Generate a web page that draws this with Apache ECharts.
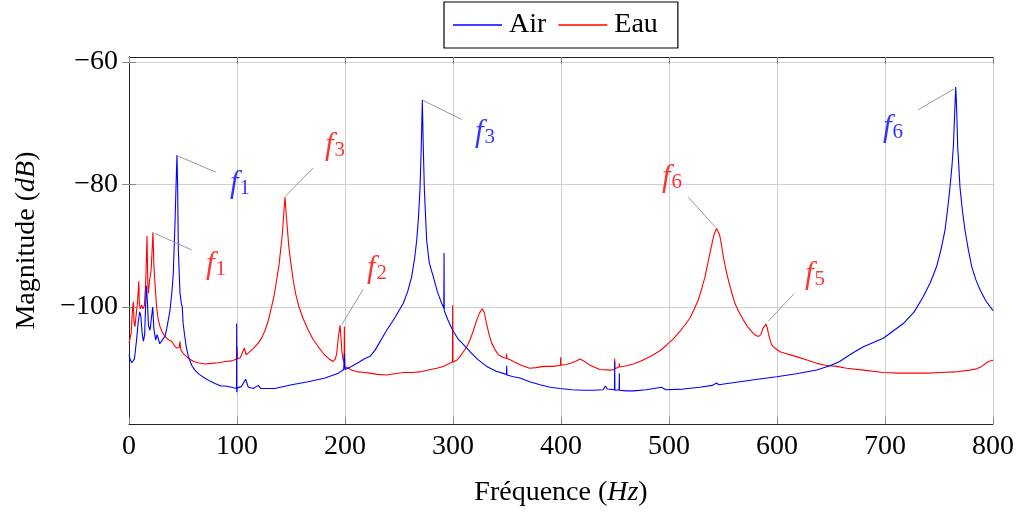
<!DOCTYPE html>
<html>
<head>
<meta charset="utf-8">
<script src="https://cdn.jsdelivr.net/npm/echarts@6/dist/echarts.min.js"></script>
<style>
html,body{margin:0;padding:0;background:#fff;}
#chart{width:1018px;height:512px;}
</style>
</head>
<body>
<div id="chart"></div>
<script>
// ---- Data ----
const xTicks = [0, 100, 200, 300, 400, 500, 600, 700, 800];
const yTicks = [-100, -80, -60];

const airFreq = [0,1.2,2.5,4,5,7,8.5,9.9,11,12,13.3,14.5,16,17,18,19.4,20.5,22,23,24.7,26,27,28.5,30,31.5,33.3,35,38,40,41,42.6,43.6,44.4,45,45.7,47.2,48.5,49.4,50,51.2,53,55,58,61,65,70,75,79.6,85,89,95,99.6,99.7,99.8,100.3,104,108,110.5,115,119.7,122,135,150.6,166,181.5,193.8,198.8,199.4,200,206,212,218.5,223,228,238.6,246,254,258,261.7,264.5,266.4,268,269.4,270.6,271.6,272.5,273.5,275.6,278,281.8,285.5,289.5,291.5,291.7,291.9,295,299.7,305,310,315.7,323,331.2,340,349.5,349.7,349.9,356,362,371,380.6,390,399,410,420.7,430,439,441,443,449.5,449.7,449.9,453.8,454,454.2,460,467,479,493,497,513,528.7,540,544,546,565.7,582,599.7,618,636.8,649,658,670,680,698.4,717,727,735.5,742,747.8,752,755.6,758,760.2,762,763.3,764.6,765.5,766.4,767.3,768.5,769.4,771.5,774,777,780.3,784,788,793,800];
const airMag = [-107.8,-108.6,-109.1,-109.0,-108.5,-105.4,-102.5,-100.8,-101.5,-104,-105.6,-104.5,-96.5,-99,-103,-103.8,-103.5,-100,-103.5,-105.4,-104.5,-104.8,-106,-105.8,-105.2,-104.8,-103.5,-100.5,-97,-94.5,-86.3,-80,-75.2,-80,-90.7,-97.7,-99.5,-100,-102.5,-104.2,-106.5,-108.1,-109.5,-110.3,-111.0,-111.6,-112.1,-112.5,-112.9,-112.9,-113.1,-113.3,-102.7,-113.9,-113.2,-113.0,-111.8,-113.1,-113.3,-112.8,-113.3,-113.3,-112.7,-112.2,-111.6,-110.8,-110.2,-107.6,-110.2,-109.7,-109.1,-108.4,-108.1,-107.0,-103.8,-101.8,-99.4,-97.5,-95.1,-92,-89.1,-85.5,-80.9,-74,-66.2,-74,-80.9,-89.1,-92.8,-95.1,-97.5,-99.4,-100.2,-91.2,-100.6,-102,-103.8,-105.3,-106.2,-107.3,-108.6,-109.7,-110.5,-111.0,-109.6,-111.1,-111.4,-111.6,-112.2,-112.7,-113.1,-113.3,-113.5,-113.6,-113.6,-113.5,-112.9,-113.4,-113.5,-108.9,-113.6,-113.5,-110.8,-113.6,-113.7,-113.7,-113.5,-113.1,-113.5,-113.4,-113.1,-112.8,-112.4,-112.7,-112.2,-111.8,-111.4,-110.9,-110.3,-109.6,-108.9,-107.5,-106.5,-105.1,-102.7,-100.8,-98.3,-96,-93.4,-90.5,-87.4,-84,-80.4,-77,-73.8,-68,-64.1,-68,-73.8,-77.5,-80.4,-84,-87.4,-90.5,-93.4,-95.5,-97.2,-98.9,-100.6];

const eauFreq = [0,1,2,3,4,4.6,5.5,6.8,8,9,9.6,10.5,11.7,13,14.2,15.5,16.7,17.4,17.9,19.1,20.5,22.2,23,24,25.6,27,28.7,31,33.3,36,39.5,42,44.1,46.5,47.2,48,50.3,55,60,64,70,76.5,83,89,95,99.5,100,100.5,103,106.8,108.5,110.5,115,119.7,123,126,129,132,134.5,136.7,139,140.7,142,142.9,144.4,146,147,148,150,152,154.5,157.4,161.5,166,170.5,175.3,180,184.6,189,191,192.3,193.8,195.4,196.3,197,198,199.2,199.4,199.6,203,206,212,218.5,223,230,238.6,246,254,262,269.4,277,285,291,297,299.5,299.7,299.9,303.4,306.5,309.6,313,315.7,319,322,324.5,327,329,331,333.5,335.8,339,342,346,349.5,349.7,349.9,353,356,363,371,377,383.6,392.9,399.5,399.7,399.9,405,410,414,417.6,421,426.9,436,445.4,449.5,449.7,449.9,451.6,453.8,454,454.2,460.8,467,473,479,485.5,492,497.8,504,510,515,519.4,523,527,530,533.3,535.8,537.9,540,541.7,544,545.8,547.2,548.7,550.3,552.5,555,558,561,565,568.8,573,578,581,583,585,587,589.8,591,592,593.5,595,598,602.8,610,618,627,636.8,645,655,664.5,680,698.4,712,726,740,751,765,778.7,785,789.5,795.6,800];
const eauMag = [-105.9,-105.9,-104.3,-101,-99.1,-102.5,-103.2,-101,-99,-95.8,-99.5,-100.3,-99.7,-100.3,-99.8,-96,-88.4,-96,-97.8,-95.6,-94,-87.8,-93,-96.1,-100,-102,-103.2,-104.2,-104.8,-105.3,-105.6,-106.3,-106.7,-106.6,-105.6,-107,-107.6,-108.4,-108.9,-109.1,-109.3,-109.2,-109.1,-108.9,-108.8,-108.5,-106.5,-108.5,-108.3,-106.7,-107.8,-107.5,-106.8,-105.9,-105,-103.8,-102.2,-100,-98,-95.6,-93,-90.2,-88,-85.8,-82.1,-85.8,-88,-90.2,-93,-95.6,-98,-100,-102,-103.8,-105.3,-106.5,-107.6,-108.4,-108.9,-108.5,-107.6,-105,-103.0,-105,-107,-108.5,-109,-103.2,-109.7,-110,-110.3,-110.6,-110.7,-110.8,-111,-111.1,-110.9,-110.7,-110.7,-110.6,-110.3,-110,-109.7,-109.2,-109.0,-99.7,-109.0,-108.7,-108.1,-107.3,-106.4,-105.4,-103.8,-102.1,-101,-100.3,-100.9,-102.7,-104.5,-105.9,-107,-107.8,-108.2,-108.4,-107.6,-108.4,-108.6,-108.9,-109.5,-110,-109.9,-109.7,-109.7,-109.5,-108.2,-109.5,-109.4,-109.1,-108.8,-108.5,-108.8,-109.5,-110.2,-110.3,-110.2,-108.4,-110.1,-110,-109.8,-109.2,-109.8,-109.6,-109.3,-108.9,-108.4,-107.8,-107.1,-106.2,-105.2,-104,-102.9,-101.8,-100.5,-98.9,-97.2,-95.1,-93,-91.2,-89.5,-88.2,-87.2,-87.8,-88.5,-90,-91.8,-93.8,-95.6,-97.6,-99.4,-100.9,-102.1,-103.3,-104.3,-104.7,-104.8,-104.5,-103.5,-102.8,-103.4,-104.3,-105.3,-106.2,-106.7,-107.3,-107.7,-108.1,-108.6,-109.2,-109.5,-109.7,-110,-110.3,-110.7,-110.8,-110.8,-110.8,-110.7,-110.6,-110.3,-110.1,-109.7,-108.9,-108.7];

// Peak annotations
const annSeries   = ['Air', 'Eau', 'Eau', 'Eau', 'Air', 'Eau', 'Eau', 'Air'];
const annIndex    = ['1', '1', '3', '2', '3', '6', '5', '6'];
const annPeakFreq = [44.6, 24.1, 144.4, 196.9, 272.5, 542.6, 592, 763.9];
const annPeakMag  = [-75.3, -88.0, -82.0, -102.9, -66.3, -86.9, -102.3, -64.4];
const annEndFreq  = [80.3, 58.1, 170.6, 216.9, 308, 517.9, 616, 730.8];
const annEndMag   = [-78.0, -90.7, -77.3, -97.1, -69.4, -82.1, -97.8, -67.8];
const annTextFreq = [102.8, 80.6, 190.7, 229.6, 329.6, 502.8, 635.2, 707.4];
const annTextMag  = [-80.6, -93.9, -74.4, -94.5, -72.3, -79.6, -95.5, -71.5];

// ---- Build chart ----
const FONT = '"Liberation Serif", "DejaVu Serif", serif';
const FS = 28;
const colors = { Air: '#0000ff', Eau: '#ff0000' };
const zip = (a, b) => a.map((v, i) => [v, b[i]]);
const minus = v => (v < 0 ? '\u2212' + Math.abs(v) : String(v));

const pinLines = annPeakFreq.map((f, i) => [
  { coord: [f, annPeakMag[i]] },
  { coord: [annEndFreq[i], annEndMag[i]] }
]);
const labelData = annTextFreq.map((f, i) => ({
  value: [f, annTextMag[i]],
  label: {
    show: true,
    position: 'inside',
    formatter: '{f|f}{s|' + annIndex[i] + '}',
    rich: {
      f: { fontFamily: FONT, fontStyle: 'italic', fontSize: 31, color: colors[annSeries[i]], lineHeight: 20, verticalAlign: 'top' },
      s: { fontFamily: FONT, fontSize: 21, color: colors[annSeries[i]], verticalAlign: 'middle', lineHeight: 40, padding: [0, 0, 0, 1] }
    }
  }
}));

const chart = echarts.init(document.getElementById('chart'), null, { renderer: 'canvas' });
const yMin = -119.1, yMax = -59.2;
chart.setOption({
  animation: false,
  backgroundColor: '#ffffff',
  textStyle: { fontFamily: FONT },
  grid: { left: 129, right: 25, top: 57, bottom: 88, containLabel: false, outerBoundsMode: 'none' },
  legend: {
    data: [{ name: 'Air', icon: 'rect' }, { name: 'Eau', icon: 'rect' }],
    left: 444, top: 2,
    padding: [9, 20, 9, 9],
    itemGap: 12,
    itemWidth: 49, itemHeight: 1.3,
    borderColor: '#000', borderWidth: 1.2,
    textStyle: { fontFamily: FONT, fontSize: FS, color: '#000', padding: [0, 0, 0, 2] }
  },
  xAxis: [{
    type: 'value', min: 0, max: 800, interval: 100,
    name: 'Fréquence ({i|Hz})', nameLocation: 'middle', nameGap: 55,
    nameTextStyle: { fontFamily: FONT, fontSize: FS, color: '#000', rich: { i: { fontFamily: FONT, fontStyle: 'italic', fontSize: FS, color: '#000' } } },
    axisLine: { show: true, lineStyle: { color: '#222', width: 1 } },
    axisTick: { show: true, inside: true, length: 7, lineStyle: { color: '#888' } },
    axisLabel: { fontFamily: FONT, fontSize: FS, color: '#000', margin: 9, formatter: minus },
    splitLine: { show: true, lineStyle: { color: '#cfcfcf', width: 1 } }
  }, {
    type: 'value', position: 'top', min: 0, max: 800, interval: 100,
    axisLine: { show: true, lineStyle: { color: '#222', width: 1 } },
    axisTick: { show: true, inside: true, length: 7, lineStyle: { color: '#888' } },
    axisLabel: { show: false }, splitLine: { show: false }
  }],
  yAxis: [{
    type: 'value', min: yMin, max: yMax,
    name: 'Magnitude ({i|dB})', nameLocation: 'middle', nameGap: 88,
    nameTextStyle: { fontFamily: FONT, fontSize: FS, color: '#000', rich: { i: { fontFamily: FONT, fontStyle: 'italic', fontSize: FS, color: '#000' } } },
    axisLine: { show: true, lineStyle: { color: '#222', width: 1 } },
    axisTick: { show: true, inside: true, length: 7, lineStyle: { color: '#888' }, customValues: yTicks },
    axisLabel: { fontFamily: FONT, fontSize: FS, color: '#000', margin: 11, formatter: minus, customValues: yTicks },
    splitLine: { show: true, lineStyle: { color: '#cfcfcf', width: 1 } }
  }, {
    type: 'value', position: 'right', min: yMin, max: yMax,
    axisLine: { show: true, lineStyle: { color: '#222', width: 1 } },
    axisTick: { show: true, inside: true, length: 7, lineStyle: { color: '#888' }, customValues: yTicks },
    axisLabel: { show: false, customValues: yTicks }, splitLine: { show: false }
  }],
  series: [
    {
      name: 'Air', type: 'line', data: zip(airFreq, airMag), symbol: 'none', showSymbol: false,
      lineStyle: { color: colors.Air, width: 1.1 }, itemStyle: { color: colors.Air }, z: 3
    },
    {
      name: 'Eau', type: 'line', data: zip(eauFreq, eauMag), symbol: 'none', showSymbol: false,
      lineStyle: { color: colors.Eau, width: 1.1 }, itemStyle: { color: colors.Eau }, z: 2,
      markLine: {
        silent: true, symbol: ['none', 'none'], animation: false,
        lineStyle: { color: '#999', width: 1, type: 'solid' },
        label: { show: false },
        data: pinLines
      }
    },
    {
      name: 'labels', type: 'scatter', data: labelData, symbol: 'circle', symbolSize: 2,
      itemStyle: { color: 'rgba(0,0,0,0)' }, silent: true, z: 5,
      label: { show: true, position: 'inside' }
    }
  ]
});
</script>
</body>
</html>
